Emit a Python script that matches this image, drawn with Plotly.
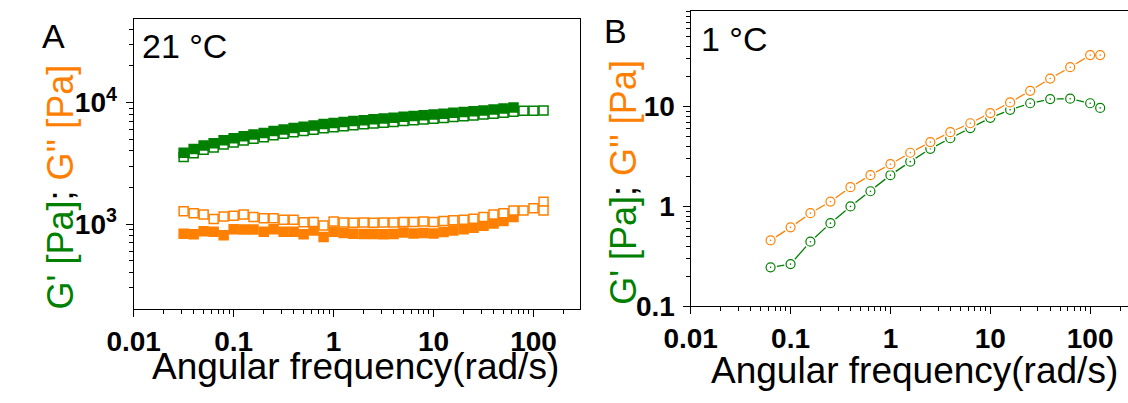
import plotly.graph_objects as go

GREEN = "#008000"
ORANGE = "#ff8000"

# ---- Panel A: 21 °C frequency sweep (square markers) ----
freq_a = [0.0316, 0.0398, 0.0501, 0.0631, 0.0794, 0.1, 0.126, 0.158, 0.2, 0.251,
          0.316, 0.398, 0.501, 0.631, 0.794, 1.0, 1.26, 1.58, 2.0, 2.51,
          3.16, 3.98, 5.01, 6.31, 7.94, 10.0, 12.6, 15.8, 20.0, 25.1,
          31.6, 39.8, 50.1, 63.1, 79.4, 100.0, 126.0]

g1_a_filled = [3860, 4150, 4420, 4630, 4900, 5080, 5270, 5460, 5620, 5820,
               6000, 6170, 6310, 6460, 6640, 6790, 6920, 7050, 7160, 7280,
               7380, 7500, 7620, 7750, 7850, 7960, 8090, 8220, 8360, 8470,
               8610, 8750, 8910, 9080]
g1_a_open = [3560, 3830, 4080, 4270, 4520, 4690, 4860, 5040, 5190, 5370,
             5540, 5690, 5820, 5960, 6130, 6270, 6390, 6510, 6610, 6720,
             6810, 6920, 7030, 7150, 7250, 7350, 7470, 7590, 7720, 7820,
             7950, 8080, 8220, 8380, 8550, 8560, 8580]
g2_a_filled = [834, 824, 875, 865, 809, 907, 902, 902, 865, 907,
               865, 865, 824, 885, 784, 865, 843, 834, 828, 828,
               824, 828, 854, 838, 843, 838, 859, 885, 907, 935,
               970, 1012, 1062, 1142]
g2_a_open = [1274, 1228, 1199, 1102, 1157, 1170, 1199, 1142, 1115, 1115,
             1087, 1087, 1037, 1042, 975, 1049, 1030, 1024, 1030, 1024,
             1030, 1030, 1042, 1042, 1049, 1042, 1062, 1076, 1087, 1107,
             1142, 1199, 1228, 1291, 1291, 1352, 1528, 1291]
freq_a_open_g2 = freq_a + [126.0]

# ---- Panel B: 1 °C frequency sweep (circle markers) ----
freq_b = [0.0631, 0.1, 0.158, 0.251, 0.398, 0.631, 1.0, 1.58, 2.51, 3.98,
          6.31, 10.0, 15.8, 25.1, 39.8, 63.1, 100.0, 126.0]
g1_b = [0.246, 0.265, 0.444, 0.681, 1.0, 1.42, 2.06, 2.81, 3.78, 4.82,
        6.10, 7.72, 9.29, 10.8, 11.9, 12.0, 10.8, 9.7]
g2_b = [0.458, 0.618, 0.857, 1.12, 1.56, 2.06, 2.65, 3.45, 4.41, 5.54,
        6.81, 8.62, 11.0, 14.4, 19.1, 24.8, 32.8, 32.8]

x_ticks = [0.01, 0.1, 1, 10, 100]
x_tick_text = ["0.01", "0.1", "1", "10", "100"]
ya_ticks = [1000, 10000]
ya_tick_text = ["<b>10<sup>3</sup></b>", "<b>10<sup>4</sup></b>"]
yb_ticks = [0.1, 1, 10]
yb_tick_text = ["0.1", "1", "10"]


def minor_vals(first_exp, last_exp, upper):
    """Intermediate log ticks (2..9 x 10^n) up to an upper limit."""
    vals = []
    for e in range(first_exp, last_exp + 1):
        for m in range(2, 10):
            v = m * 10.0 ** e
            if v <= upper:
                vals.append(v)
    return vals


fig = go.Figure()


def sq(x, y, color, filled, axes):
    xa, ya = axes
    fig.add_trace(go.Scatter(
        x=x, y=y, mode="markers", xaxis=xa, yaxis=ya, showlegend=False,
        marker=dict(symbol="square", size=9,
                    color=color if filled else "white",
                    line=dict(color=color, width=1.5))))


# panel A traces (filled G' sits above its open counterpart)
sq(freq_a, g1_a_open, GREEN, False, ("x", "y"))
sq(freq_a[:len(g1_a_filled)], g1_a_filled, GREEN, True, ("x", "y"))
sq(freq_a[:len(g2_a_filled)], g2_a_filled, ORANGE, True, ("x", "y"))
sq(freq_a_open_g2, g2_a_open, ORANGE, False, ("x", "y"))

# panel B traces: line, white halo, open circle, centre dot
for yv, col in ((g1_b, GREEN), (g2_b, ORANGE)):
    fig.add_trace(go.Scatter(x=freq_b, y=yv, mode="lines", xaxis="x2", yaxis="y2",
                             showlegend=False, line=dict(color=col, width=1.3)))
for yv, col in ((g1_b, GREEN), (g2_b, ORANGE)):
    fig.add_trace(go.Scatter(x=freq_b, y=yv, mode="markers", xaxis="x2", yaxis="y2",
                             showlegend=False,
                             marker=dict(symbol="circle", size=13, color="white",
                                         line=dict(width=0))))
    fig.add_trace(go.Scatter(x=freq_b, y=yv, mode="markers", xaxis="x2", yaxis="y2",
                             showlegend=False,
                             marker=dict(symbol="circle", size=9, color="white",
                                         line=dict(color=col, width=1.2))))
    fig.add_trace(go.Scatter(x=freq_b, y=yv, mode="markers", xaxis="x2", yaxis="y2",
                             showlegend=False,
                             marker=dict(symbol="circle", size=1.6, color=col,
                                         line=dict(width=0))))

tick_font = dict(family="Liberation Sans, Arial, sans-serif", size=28, color="black",
                 weight="bold")


def minor(vals):
    return dict(tickvals=vals, ticks="outside", ticklen=4, tickwidth=1.2,
                tickcolor="black", showgrid=False)


common_axis = dict(type="log", showgrid=False, zeroline=False, showline=True,
                   linecolor="black", linewidth=1.3, ticks="outside", ticklen=7,
                   tickwidth=1.3, tickcolor="black", tickfont=tick_font)

fig.update_layout(
    width=1128, height=403, margin=dict(l=0, r=0, t=0, b=0),
    paper_bgcolor="white", plot_bgcolor="white",
    font=dict(family="Liberation Sans, Arial, sans-serif", color="black"),
    xaxis=dict(common_axis, domain=[0.0969, 0.5027], range=[-2, 2.47],
               tickvals=x_ticks, ticktext=x_tick_text,
               minor=minor(minor_vals(-2, 2, 300)), mirror=True, anchor="y"),
    yaxis=dict(common_axis, domain=[0.2017, 0.9516], range=[2.302, 4.689],
               tickvals=ya_ticks, ticktext=ya_tick_text, ticklabelstandoff=3,
               minor=minor(minor_vals(2, 4, 48000)), mirror=True, anchor="x"),
    xaxis2=dict(common_axis, domain=[0.6028, 1.0], range=[-2, 2.379],
                tickvals=x_ticks, ticktext=x_tick_text,
                minor=minor(minor_vals(-2, 2, 240)), mirror=True, anchor="y2"),
    yaxis2=dict(common_axis, domain=[0.2084, 0.971], range=[-1, 1.955],
                tickvals=yb_ticks, ticktext=yb_tick_text, ticklabelstandoff=2,
                minor=minor(minor_vals(-1, 1, 90)), mirror=False, anchor="x2"),
)

label_font = dict(family="Liberation Sans, Arial, sans-serif", size=34, color="black")
ylab = ("<span style='color:%s'>G' [Pa]</span>; "
        "<span style='color:%s'>G'' [Pa]</span>" % (GREEN, ORANGE))
xlab = "Angular frequency(rad/s)"

annotations = [
    dict(text="A", x=13, y=38, xanchor="left", yanchor="middle", font=label_font),
    dict(text="21 °C", x=116, y=48, xanchor="left", yanchor="middle", font=label_font),
    dict(text="B", x=589, y=32, xanchor="left", yanchor="middle", font=label_font),
    dict(text="1 °C", x=688, y=41, xanchor="left", yanchor="middle", font=label_font),
    dict(text=ylab, x=34, y=195, textangle=-90, xanchor="center", yanchor="middle",
         font=dict(label_font, size=36)),
    dict(text=ylab, x=611, y=190, textangle=-90, xanchor="center", yanchor="middle",
         font=dict(label_font, size=36)),
    dict(text=xlab, x=337, y=382, xanchor="center", yanchor="middle",
         font=dict(label_font, size=37)),
    dict(text=xlab, x=909, y=386, xanchor="center", yanchor="middle",
         font=dict(label_font, size=37)),
]
for a in annotations:
    a.update(xref="paper", yref="paper", showarrow=False)
    a["x"] = a["x"] / 1128
    a["y"] = 1 - a["y"] / 403
fig.update_layout(annotations=annotations)

fig.write_html("out.html")
